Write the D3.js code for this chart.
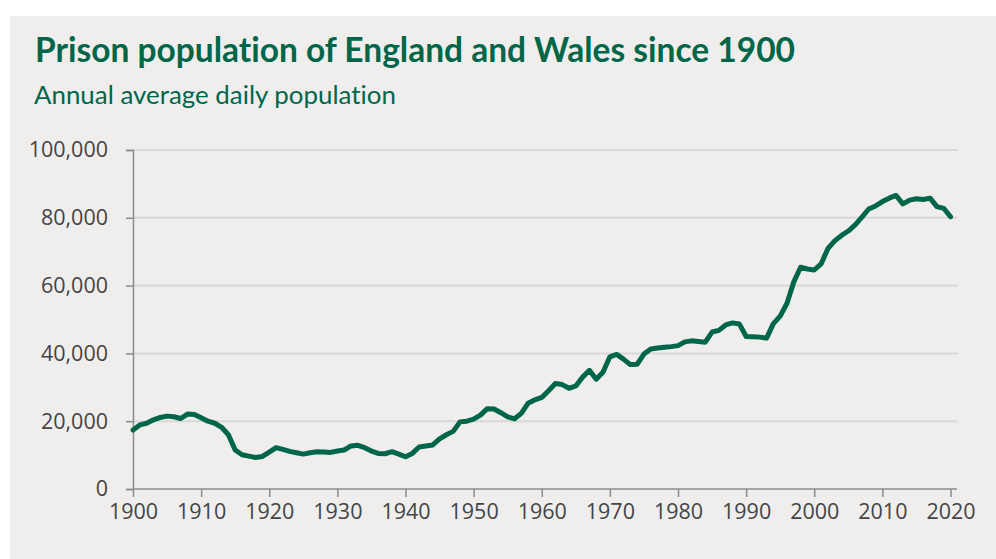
<!DOCTYPE html>
<html>
<head>
<meta charset="utf-8">
<script src="https://cdn.jsdelivr.net/npm/d3@7"></script>
<style>
  body { margin: 0; background: #fff; }
  svg { display: block; }
  text { font-variant-ligatures: none; }
</style>
</head>
<body>
<svg id="chart" width="996" height="559"></svg>
<script>
// annual average daily prison population, England and Wales
var years = d3.range(1900, 2021);
var population = [
  17400, 18900, 19400, 20400, 21100, 21500, 21300, 20800, 22100, 22000,
  21000, 20000, 19400, 18200, 16000, 11500, 10100, 9700, 9300, 9600,
  10900, 12200, 11700, 11100, 10700, 10300, 10700, 11000, 10900, 10800,
  11200, 11500, 12700, 12900, 12200, 11200, 10500, 10400, 11000, 10300,
  9500, 10500, 12400, 12700, 13000, 14800, 16000, 17000, 19800, 20000,
  20600, 21800, 23700, 23600, 22500, 21300, 20700, 22300, 25300, 26300,
  27000, 29000, 31100, 30800, 29700, 30400, 33000, 35000, 32400, 34500,
  39000, 39700, 38300, 36700, 36800, 39800, 41300, 41600, 41800, 42000,
  42300, 43400, 43700, 43500, 43300, 46300, 46800, 48400, 49000, 48700,
  45000, 44900, 44800, 44500, 48800, 51000, 54800, 61100, 65400, 64900,
  64600, 66400, 70900, 73200, 74800, 76100, 77900, 80200, 82600, 83500,
  84800, 85800, 86600, 84100, 85200, 85600, 85400, 85800, 83300, 82800,
  80300
];
var yTicks = [0, 20000, 40000, 60000, 80000, 100000];
var xTicks = [1900, 1910, 1920, 1930, 1940, 1950, 1960, 1970, 1980, 1990, 2000, 2010, 2020];

var title = 'Prison population of England and Wales since 1900';
var subtitle = 'Annual average daily population';

var green = '#00664a';
var svg = d3.select('#chart');

// grey panel behind everything
svg.append('rect')
  .attr('x', 10)
  .attr('y', 16)
  .attr('width', 986)
  .attr('height', 543)
  .attr('fill', '#efeeed');

svg.append('text')
  .attr('x', 35)
  .attr('y', 62)
  .attr('fill', green)
  .style('font-family', 'Lato, sans-serif')
  .style('font-weight', 700)
  .style('font-size', '33.5px')
  .text(title);

svg.append('text')
  .attr('x', 34)
  .attr('y', 104)
  .attr('fill', green)
  .style('font-family', 'Lato, sans-serif')
  .style('font-size', '25.9px')
  .text(subtitle);

var x = d3.scaleLinear()
  .domain([1900, 2020])
  .range([133, 950.5]);

var y = d3.scaleLinear()
  .domain([0, 100000])
  .range([489, 150]);

// horizontal gridlines
svg.append('g')
  .selectAll('line')
  .data(yTicks.filter(function(d) { return d > 0; }))
  .enter()
  .append('line')
  .attr('x1', 133)
  .attr('x2', 958)
  .attr('y1', function(d) { return y(d); })
  .attr('y2', function(d) { return y(d); })
  .attr('stroke', '#d9d8d6')
  .attr('stroke-width', 2);

// y axis
var yAxis = svg.append('g')
  .attr('transform', 'translate(133,0)')
  .call(d3.axisLeft(y)
    .tickValues(yTicks)
    .tickSize(7)
    .tickPadding(18)
    .tickFormat(d3.format(',')));

// x axis
var xAxis = svg.append('g')
  .attr('transform', 'translate(0,489)')
  .call(d3.axisBottom(x)
    .tickValues(xTicks)
    .tickSize(8)
    .tickPadding(7)
    .tickFormat(d3.format('d')));

xAxis.select('.domain').attr('d', 'M133,0H957');

[yAxis, xAxis].forEach(function(axis) {
  axis.select('.domain')
    .attr('stroke', '#8c8c8c')
    .attr('stroke-width', 1.5);
  axis.selectAll('.tick line')
    .attr('stroke', '#8c8c8c')
    .attr('stroke-width', 1.5);
  axis.selectAll('.tick text')
    .attr('fill', '#444')
    .style('font-family', '"Open Sans", sans-serif')
    .style('font-size', '21.5px');
});

// the population line
var line = d3.line()
  .x(function(d, i) { return x(years[i]); })
  .y(function(d) { return y(d); });

svg.append('path')
  .datum(population)
  .attr('d', line)
  .attr('fill', 'none')
  .attr('stroke', green)
  .attr('stroke-width', 5)
  .attr('stroke-linejoin', 'round')
  .attr('stroke-linecap', 'round');
</script>
</body>
</html>
